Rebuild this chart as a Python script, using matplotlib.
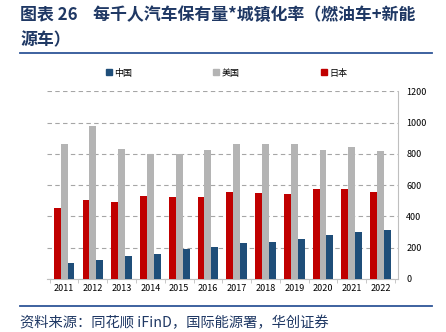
import numpy as np
import matplotlib.pyplot as plt
from matplotlib.lines import Line2D

plt.rcParams['font.family'] = ['Noto Sans CJK SC', 'DejaVu Sans']

years = ['2011', '2012', '2013', '2014', '2015', '2016',
         '2017', '2018', '2019', '2020', '2021', '2022']
japan = [455, 502, 492, 530, 522, 524, 554, 547, 543, 573, 575, 556]
usa = [866, 979, 832, 796, 800, 824, 860, 864, 860, 822, 845, 817]
china = [100, 119, 149, 160, 190, 204, 228, 238, 255, 279, 298, 315]

c_red = '#C00000'
c_gray = '#B4B4B4'
c_blue = '#1F4E79'
navy = '#1F3864'

fig = plt.figure(figsize=(4.46, 3.32), dpi=100)
ax = fig.add_axes([0.105, 0.16, 0.787, 0.565])

x = np.arange(len(years))
w = 0.24
ax.bar(x - w, japan, w, color=c_red, label='日本', zorder=3)
ax.bar(x, usa, w, color=c_gray, label='美国', zorder=3)
ax.bar(x + w, china, w, color=c_blue, label='中国', zorder=3)

ax.set_xlim(-0.6, len(years) - 0.4)
ax.set_ylim(0, 1200)
ax.set_yticks(range(0, 1201, 200))
ax.yaxis.tick_right()
ax.tick_params(axis='y', length=0, labelsize=6.5, pad=6)
ax.set_xticks(x)
ax.set_xticklabels(years)
ax.tick_params(axis='x', length=0, labelsize=6.5, pad=4)
ax.set_xticks(np.arange(-0.5, len(years), 1), minor=True)
ax.tick_params(axis='x', which='minor', length=3, color='#BFBFBF')
ax.grid(axis='y', linestyle=(0, (4, 3)), color='#A6A6A6', linewidth=0.8, zorder=0)

for s in ['top', 'left']:
    ax.spines[s].set_visible(False)
ax.spines['right'].set_color('#BFBFBF')
ax.spines['bottom'].set_color('#BFBFBF')

# legend in the order 中国, 美国, 日本
handles = [Line2D([], [], marker='s', linestyle='', color=c, markersize=4)
           for c in (c_blue, c_gray, c_red)]
ax.legend(handles, ['中国', '美国', '日本'], loc='lower center',
          bbox_to_anchor=(0.51, 1.03), ncol=3, frameon=False, fontsize=6.5,
          handletextpad=0.1, handlelength=1.0, columnspacing=8.8)

fig.text(0.045, 0.955, '图表 26    每千人汽车保有量*城镇化率（燃油车+新能',
         fontsize=12.2, fontweight='bold', color=navy, va='center')
fig.text(0.045, 0.88, '源车）', fontsize=12.2, fontweight='bold', color=navy,
         va='center')
fig.add_artist(Line2D([0.045, 0.968], [0.84, 0.84], color='#2E5597',
                      linewidth=1.3, transform=fig.transFigure))
fig.add_artist(Line2D([0.045, 0.968], [0.078, 0.078], color='#2E5597',
                      linewidth=1.3, transform=fig.transFigure))
fig.text(0.045, 0.028, '资料来源：同花顺 iFinD，国际能源署，华创证券',
         fontsize=10.3, color=navy, style='italic', va='center')

fig.savefig('out.png', dpi=100)
